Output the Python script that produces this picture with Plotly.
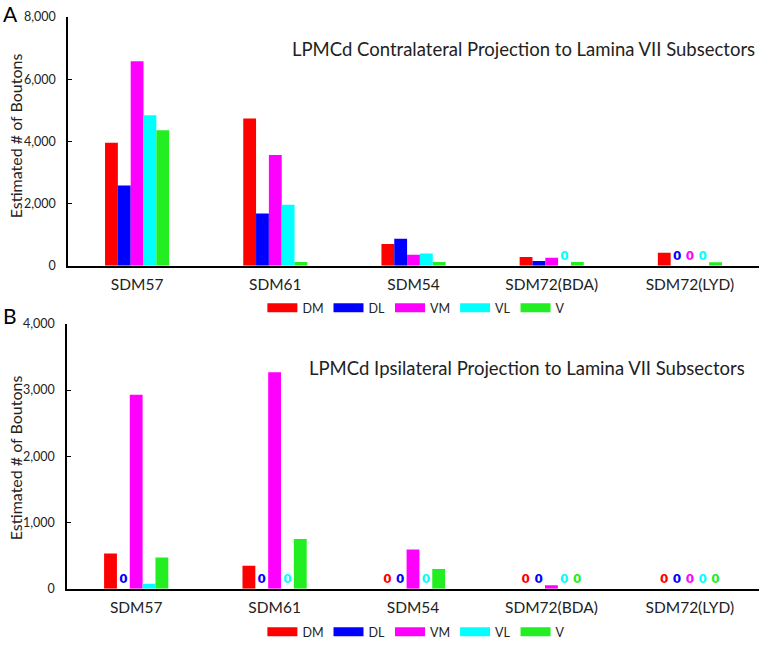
import plotly.graph_objects as go

categories = ["SDM57", "SDM61", "SDM54", "SDM72(BDA)", "SDM72(LYD)"]
subsectors = ["DM", "DL", "VM", "VL", "V"]
colors = ["#FF0000", "#0000FF", "#FF00FF", "#00FFFF", "#22EE22"]

# Contralateral projection (panel A)
contra_DM = [3960, 4740, 700, 280, 415]
contra_DL = [2580, 1680, 870, 150, 0]
contra_VM = [6580, 3560, 350, 256, 0]
contra_VL = [4840, 1960, 395, 0, 0]
contra_V = [4360, 120, 120, 120, 110]

# Ipsilateral projection (panel B)
ipsi_DM = [530, 345, 0, 0, 0]
ipsi_DL = [0, 0, 0, 0, 0]
ipsi_VM = [2930, 3270, 590, 50, 0]
ipsi_VL = [75, 0, 0, 0, 0]
ipsi_V = [470, 750, 295, 0, 0]

contra = [contra_DM, contra_DL, contra_VM, contra_VL, contra_V]
ipsi = [ipsi_DM, ipsi_DL, ipsi_VM, ipsi_VL, ipsi_V]

y_title = "Estimated # of Boutons"
title_a = "LPMCd Contralateral Projection to Lamina VII Subsectors"
title_b = "LPMCd Ipsilateral Projection to Lamina VII Subsectors"

FONT = "Lato"
W, H = 764, 647

fig = go.Figure()

def add_panel(data, xa, ya, legend):
    for name, vals, col in zip(subsectors, data, colors):
        fig.add_trace(go.Bar(
            x=categories, y=vals, name=name, marker_color=col,
            marker_line_width=0, xaxis=xa, yaxis=ya, showlegend=False,
            text=["0" if v == 0 else "" for v in vals],
            textposition="outside", cliponaxis=False,
            textfont=dict(color=col, size=12, family="DejaVu Sans", weight="bold"),
        ))
    for name, col in zip(subsectors, colors):
        fig.add_trace(go.Scatter(
            x=[None], y=[None], mode="lines", name=name,
            line=dict(color=col, width=9), xaxis=xa, yaxis=ya,
            legend=legend, showlegend=True, hoverinfo="skip",
        ))

add_panel(contra, "x", "y", "legend")
add_panel(ipsi, "x2", "y2", "legend2")

def px_x(p):
    return p / W

def px_y(p):
    return 1 - p / H

axis_common = dict(
    showline=True, linecolor="black", linewidth=1.5, showgrid=False, zeroline=False,
)
fig.update_layout(
    width=W, height=H,
    margin=dict(l=0, r=0, t=0, b=0),
    paper_bgcolor="white", plot_bgcolor="white",
    font=dict(family=FONT, color="#222222"),
    barmode="group", bargap=0.536, bargroupgap=0,
    xaxis=dict(domain=[px_x(68), px_x(759)], anchor="y", **axis_common,
               tickfont=dict(size=15.5), ticks="", ticklabelstandoff=4, automargin=False),
    yaxis=dict(domain=[px_y(269), px_y(17.3)], anchor="x", range=[0, 8000], **axis_common,
               tickvals=[0, 2000, 4000, 6000, 8000], tickformat=",",
               ticks="inside", ticklen=4, tickcolor="black",
               tickfont=dict(size=12.5), ticklabelstandoff=8, automargin=False),
    xaxis2=dict(domain=[px_x(67), px_x(759)], anchor="y2", **axis_common,
                tickfont=dict(size=15.5), ticks="", ticklabelstandoff=4, automargin=False),
    yaxis2=dict(domain=[px_y(596), px_y(328)], anchor="x2", range=[0, 4000], **axis_common,
                tickvals=[0, 1000, 2000, 3000, 4000], tickformat=",",
                ticks="inside", ticklen=4, tickcolor="black",
                tickfont=dict(size=12.5), ticklabelstandoff=8, automargin=False),
    legend=dict(orientation="h", x=0.545, xanchor="center", y=px_y(312), yanchor="middle",
                font=dict(size=12.5), itemwidth=30, bgcolor="rgba(0,0,0,0)", tracegroupgap=0),
    legend2=dict(orientation="h", x=0.545, xanchor="center", y=px_y(640), yanchor="middle",
                 font=dict(size=12.5), itemwidth=30, bgcolor="rgba(0,0,0,0)", tracegroupgap=0),
    annotations=[
        dict(text="A", x=px_x(1), y=px_y(14), xref="paper", yref="paper",
             xanchor="left", yanchor="middle", showarrow=False, font=dict(size=21, color="black")),
        dict(text="B", x=px_x(1), y=px_y(319), xref="paper", yref="paper",
             xanchor="left", yanchor="middle", showarrow=False, font=dict(size=21, color="black")),
        dict(text=title_a, x=px_x(757), y=px_y(50), xref="paper", yref="paper",
             xanchor="right", yanchor="middle", showarrow=False, font=dict(size=18.5)),
        dict(text=title_b, x=px_x(747), y=px_y(373), xref="paper", yref="paper",
             xanchor="right", yanchor="middle", showarrow=False, font=dict(size=18.5)),
        dict(text=y_title, x=px_x(15), y=px_y(138), xref="paper", yref="paper",
             xanchor="center", yanchor="middle", textangle=-90, showarrow=False,
             font=dict(size=16)),
        dict(text=y_title, x=px_x(15), y=px_y(464), xref="paper", yref="paper",
             xanchor="center", yanchor="middle", textangle=-90, showarrow=False,
             font=dict(size=16)),
    ],
)

fig.write_html("out.html", post_script="document.body.style.margin='0px';",
               config={"displayModeBar": False})
